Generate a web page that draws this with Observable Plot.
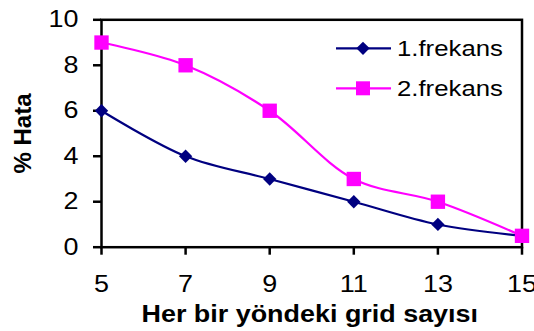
<!DOCTYPE html>
<html><head><meta charset="utf-8">
<script src="https://cdn.jsdelivr.net/npm/d3@7"></script>
<script src="https://cdn.jsdelivr.net/npm/@observablehq/plot@0.6"></script>
<style>
body{margin:0;background:#fff;}
#chart{position:relative;width:534px;height:331px;overflow:hidden;}
#legend{position:absolute;left:0;top:0;pointer-events:none;}
</style></head><body><div id="chart"></div>
<script>
const gridCounts = [5, 7, 9, 11, 13, 15];
const freq1 = [6, 4, 3, 2, 1, 0.5];
const freq2 = [9, 8, 6, 3, 2, 0.5];
const seriesNames = ["1.frekans", "2.frekans"];
const seriesColors = ["#000080", "#FF00FF"];
const yTicks = [0, 2, 4, 6, 8, 10];
const xTitle = "Her bir yöndeki grid sayısı";
const yTitle = "% Hata";

const FONT = "Arial, 'Liberation Sans', sans-serif";
const STRETCH = 1.17;

const rows1 = gridCounts.map((g, i) => ({x: g, y: freq1[i]}));
const rows2 = gridCounts.map((g, i) => ({x: g, y: freq2[i]}));

const plot = Plot.plot({
  width: 534, height: 331,
  marginLeft: 101, marginRight: 12.5, marginTop: 19.3, marginBottom: 84.3,
  style: {fontFamily: FONT, fontSize: "23px", color: "#000", background: "#fff", overflow: "visible"},
  x: {domain: [5, 15]},
  y: {domain: [0, 10]},
  marks: [
    Plot.axisX({ticks: gridCounts, tickSize: 8, tickPadding: 20, strokeWidth: 2.5, fontSize: 23, label: null}),
    Plot.axisY({ticks: yTicks, tickSize: 8, tickPadding: 15, strokeWidth: 2.5, fontSize: 23, label: null}),
    Plot.frame({stroke: "#000", strokeWidth: 2.5}),
    Plot.line(rows1, {x: "x", y: "y", stroke: seriesColors[0], strokeWidth: 2.2, curve: "catmull-rom"}),
    Plot.dot(rows1, {x: "x", y: "y", symbol: "diamond2", r: 6, fill: seriesColors[0], stroke: null}),
    Plot.line(rows2, {x: "x", y: "y", stroke: seriesColors[1], strokeWidth: 2.2, curve: "catmull-rom"}),
    Plot.dot(rows2, {x: "x", y: "y", symbol: "square", r: 8.1, fill: seriesColors[1], stroke: null}),
    Plot.text([xTitle], {text: d => d, frameAnchor: "bottom", lineAnchor: "middle", textAnchor: "middle", dy: 67, dx: -2, fontWeight: "bold", fontSize: 23}),
    Plot.text([yTitle], {text: d => d, frameAnchor: "left", lineAnchor: "middle", textAnchor: "middle", rotate: -90, dx: -78, fontWeight: "bold", fontSize: 24})
  ]
});

const chart = document.getElementById("chart");
chart.append(plot);

// Legend overlay (inside plot area, top-right)
const leg = d3.select(chart).append("svg").attr("id", "legend").attr("width", 534).attr("height", 331);
const legRows = [48.3, 88.3];
const legSymbols = [d3.symbolDiamond2, d3.symbolSquare];
const legSizes = [Math.PI * 36, 196];
seriesNames.forEach((name, i) => {
  const g = leg.append("g").attr("transform", `translate(0,${legRows[i]})`);
  g.append("line").attr("x1", 336).attr("x2", 391).attr("y1", 0).attr("y2", 0)
    .attr("stroke", seriesColors[i]).attr("stroke-width", 2.2);
  g.append("path").attr("d", d3.symbol(legSymbols[i], legSizes[i])())
    .attr("transform", "translate(363,0)").attr("fill", seriesColors[i]);
  g.append("text").attr("x", 397).attr("y", 0).attr("dy", "0.35em")
    .attr("font-family", FONT).attr("font-size", 22).attr("fill", "#000").text(name);
});

// Horizontal stretching of the glyphs to match the reference
chart.querySelectorAll("text").forEach(t => {
  if (t.textContent === yTitle) return;
  const len = t.getComputedTextLength();
  if (len > 0) {
    t.setAttribute("textLength", len * STRETCH);
    t.setAttribute("lengthAdjust", "spacingAndGlyphs");
  }
});
</script></body></html>
